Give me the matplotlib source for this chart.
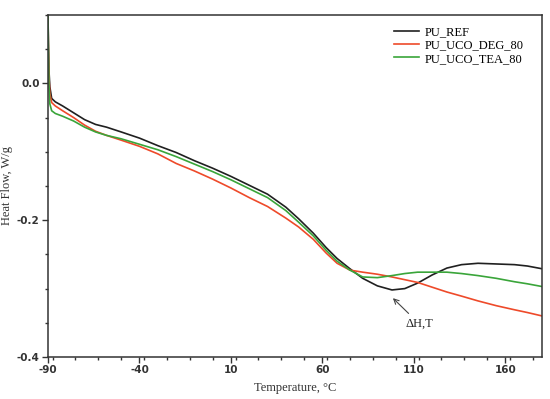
import matplotlib
matplotlib.use('Agg')
import matplotlib.pyplot as plt
from matplotlib.ticker import MultipleLocator

# temperature grid, °C
temp = [-90, -89.8, -89.5, -89, -88, -86, -82, -76, -70, -64, -58, -50, -40, -30,
        -20, -10, 0, 10, 20, 30, 40, 47, 55, 62, 68, 75, 82, 90, 98, 105, 112,
        120, 128, 136, 145, 155, 165, 172, 180]

# heat flow, W/g
pu_ref = [0.10, 0.06, 0.02, -0.005, -0.022, -0.027, -0.033, -0.043, -0.053, -0.060,
          -0.064, -0.071, -0.080, -0.091, -0.101, -0.113, -0.124, -0.136, -0.149,
          -0.162, -0.181, -0.198, -0.219, -0.240, -0.256, -0.271, -0.285, -0.296,
          -0.302, -0.300, -0.292, -0.280, -0.270, -0.265, -0.263, -0.264, -0.265,
          -0.267, -0.271]
pu_deg = [0.10, 0.05, 0.01, -0.015, -0.028, -0.033, -0.040, -0.050, -0.061, -0.070,
          -0.076, -0.083, -0.092, -0.103, -0.117, -0.128, -0.140, -0.153, -0.167,
          -0.180, -0.197, -0.210, -0.228, -0.248, -0.263, -0.273, -0.276, -0.279,
          -0.283, -0.287, -0.291, -0.298, -0.305, -0.311, -0.318, -0.325, -0.331,
          -0.335, -0.340]
pu_tea = [0.10, 0.05, 0.0, -0.030, -0.040, -0.044, -0.048, -0.055, -0.064, -0.071,
          -0.076, -0.081, -0.089, -0.097, -0.107, -0.118, -0.129, -0.141, -0.154,
          -0.167, -0.186, -0.203, -0.223, -0.244, -0.260, -0.273, -0.283, -0.284,
          -0.281, -0.278, -0.276, -0.276, -0.276, -0.278, -0.281, -0.285, -0.290,
          -0.293, -0.297]

serif = ['Liberation Serif', 'DejaVu Serif']

fig = plt.figure(figsize=(5.5, 3.99), dpi=100)
ax = fig.add_axes([0.0873, 0.1053, 0.8982, 0.8571])

ax.plot(temp, pu_ref, color='#202020', lw=1.2, label='PU_REF')
ax.plot(temp, pu_deg, color='#ee4a2a', lw=1.2, label='PU_UCO_DEG_80')
ax.plot(temp, pu_tea, color='#3aa53a', lw=1.2, label='PU_UCO_TEA_80')

ax.set_xlim(-90, 180)
ax.set_ylim(-0.4, 0.1)
ax.xaxis.set_minor_locator(MultipleLocator(12.5))
ax.yaxis.set_minor_locator(MultipleLocator(0.05))
ax.set_xticks([-90, -40, 10, 60, 110, 160])
ax.set_xticklabels(['-90', '-40', '10', '60', '110', '160'])
ax.set_yticks([-0.4, -0.2, 0.0])
ax.set_yticklabels(['-0.4', '-0.2', '0.0'])
ax.tick_params(which='major', direction='out', length=4, width=1, pad=2,
               labelsize=7.5, colors='#333333')
ax.tick_params(which='minor', direction='out', length=2.5, width=1, colors='#333333')
for lab in ax.get_xticklabels() + ax.get_yticklabels():
    lab.set_fontweight('bold')
for sp in ax.spines.values():
    sp.set_linewidth(1.1)
    sp.set_color('#333333')

ax.set_xlabel('Temperature, °C', family=serif, fontsize=9, color='#333333', labelpad=5)
ax.set_ylabel('Heat Flow, W/g', family=serif, fontsize=9, color='#333333', labelpad=3)

ax.annotate('ΔH,T', xy=(98.5, -0.314), xytext=(105.5, -0.352),
            family=serif, fontsize=9, va='center', ha='left', color='#222222',
            arrowprops=dict(arrowstyle='->', color='#444444', lw=0.8,
                            shrinkA=2, shrinkB=0))

ax.legend(loc='upper right', frameon=False, prop={'family': serif, 'size': 9},
          handlelength=2.0, labelspacing=0.1, borderaxespad=0.5,
          bbox_to_anchor=(0.985, 1.0), handletextpad=0.4)

fig.savefig('out.png', dpi=100)
